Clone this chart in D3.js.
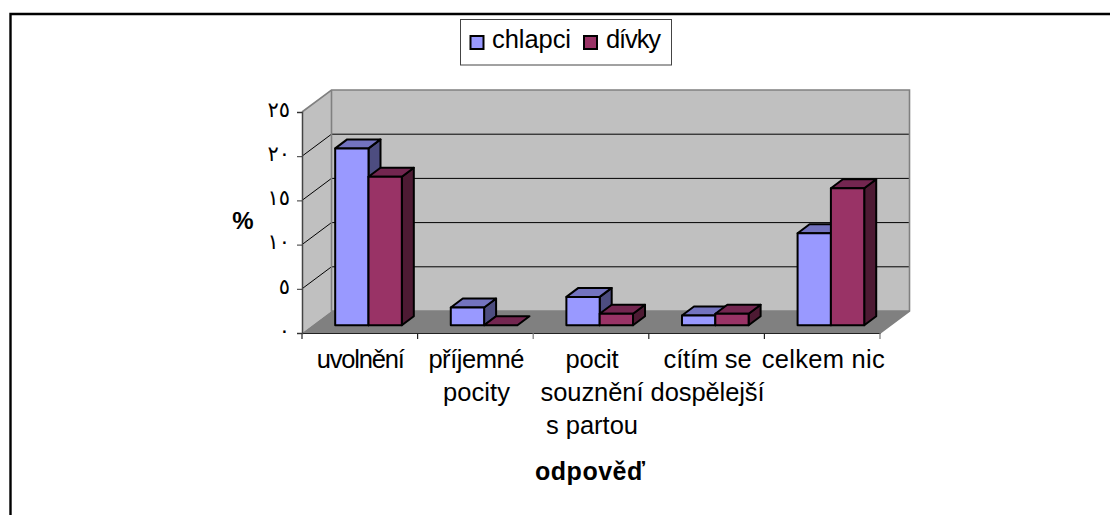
<!DOCTYPE html>
<html><head><meta charset="utf-8">
<script src="https://cdn.jsdelivr.net/npm/d3@7/dist/d3.min.js"></script>
<style>html,body{margin:0;padding:0;background:#fff;overflow:hidden}svg{display:block}</style>
</head><body><svg id="c" width="1110" height="515"></svg>
<script>
const categories = ["uvolnění","příjemné pocity","pocit souznění s partou","cítím se dospělejší","celkem nic"];
const categoryLines = [["uvolnění"],["příjemné","pocity"],["pocit","souznění","s partou"],["cítím se","dospělejší"],["celkem nic"]];
const categoryLineWidths = [[88],[96,67],[53,103,92],[88,114],[123]];
const seriesNames = ["chlapci","dívky"];
const seriesNameWidths = [79,55];
const chlapci = [20,2,3.2,1.1,10.4];
const divky = [16.8,0,1.3,1.3,15.5];
const tickValues = [0,5,10,15,20,25];
const tickLabels = ["٠","٥","١٠","١٥","٢٠","٢٥"];
const xTitle = "odpověď", yTitle = "%";
const faces = [
  {front:"#9999ff",top:"#7373bf",side:"#4d4d80"},
  {front:"#993366",top:"#732650",side:"#4d1a33"}
];
const latin = "'Liberation Sans',Arial,sans-serif";
const svg = d3.select("#c");

// outer frame: top and left edges only reach the picture
svg.append("path").attr("d","M10.5 515V14H1110").attr("fill","none").attr("stroke","#000").attr("stroke-width",2.4);

const x = d3.scaleBand().domain(categories).range([302,880]);
const y = d3.scaleLinear().domain([0,25]).range([333,112]);
const depth = {dx:29.5,dy:-22};
const barDepth = {dx:12,dy:-9};
const plane = {dx:8.7,dy:-7.8};
const line = pts => "M"+pts.map(p=>p.join(" ")).join("L")+"Z";

const [x0,x1] = x.range(), y0=y(0), yT=y(25);
// walls and floor
svg.append("path").attr("d",line([[x0,y0],[x0+depth.dx,y0+depth.dy],[x0+depth.dx,yT+depth.dy],[x0,yT]])).attr("fill","#c0c0c0");
svg.append("path").attr("d",line([[x0+depth.dx,y0+depth.dy],[x1+depth.dx,y0+depth.dy],[x1+depth.dx,yT+depth.dy],[x0+depth.dx,yT+depth.dy]])).attr("fill","#c0c0c0");
svg.append("path").attr("d",line([[x0,y0],[x1,y0],[x1+depth.dx,y0+depth.dy],[x0+depth.dx,y0+depth.dy]])).attr("fill","#808080");
// gridlines
tickValues.filter(t=>t>0&&t<25).forEach(t=>{
  svg.append("path").attr("fill","none").attr("stroke","#000").attr("stroke-width",1)
    .attr("d",`M${x0} ${y(t)}L${x0+depth.dx} ${y(t)+depth.dy}H${x1+depth.dx}`);
});
// wall edges
svg.append("path").attr("fill","none").attr("stroke","#808080").attr("stroke-width",1.6)
  .attr("d",`M${x0} ${yT}L${x0+depth.dx} ${yT+depth.dy}H${x1+depth.dx}V${y0+depth.dy}L${x1} ${y0}`);
svg.append("path").attr("fill","none").attr("stroke","#808080").attr("stroke-width",1.6)
  .attr("d",`M${x0+depth.dx} ${yT+depth.dy}V${y0+depth.dy}H${x1+depth.dx}`);

// bars
const inner = d3.scaleBand().domain(seriesNames).range([0,x.bandwidth()]).paddingInner(0).paddingOuter(0.735);
const series = [chlapci,divky];
categories.forEach((c,i)=>{
  seriesNames.forEach((s,j)=>{
    const v = series[j][i];
    const l = x(c)+inner(s)+plane.dx, r = l+inner.bandwidth();
    const b = y(0)+plane.dy, t = y(v)+plane.dy;
    const g = svg.append("g").attr("stroke","#000").attr("stroke-width",2).attr("stroke-linejoin","round");
    if(v>0) g.append("path").attr("fill",faces[j].side).attr("d",line([[r,b],[r+barDepth.dx,b+barDepth.dy],[r+barDepth.dx,t+barDepth.dy],[r,t]]));
    g.append("path").attr("fill",faces[j].top).attr("d",line([[l,t],[r,t],[r+barDepth.dx,t+barDepth.dy],[l+barDepth.dx,t+barDepth.dy]]));
    if(v>0) g.append("path").attr("fill",faces[j].front).attr("d",line([[l,t],[r,t],[r,b],[l,b]]));
  });
});

// axes
const xAxis = d3.axisBottom(x).tickSize(0).tickFormat("");
svg.append("g").attr("transform",`translate(0,${y0})`).call(xAxis).call(g=>g.select(".domain").attr("stroke","#222").attr("stroke-width",1.2));
svg.append("g").selectAll("line").data(categories.concat(["end"])).join("line")
  .attr("x1",(d,i)=>x0+i*x.step()).attr("x2",(d,i)=>x0+i*x.step())
  .attr("y1",y0).attr("y2",y0+6).attr("stroke",(d,i)=>(i==2||i==5)?"#777":"#222").attr("stroke-width",1.2);
const yAxis = d3.axisLeft(y).tickValues(tickValues).tickSize(5).tickPadding(7).tickFormat((d,i)=>tickLabels[i]);
svg.append("g").attr("transform",`translate(${x0},0)`).call(yAxis)
  .call(g=>g.select(".domain").attr("stroke","#444").attr("stroke-width",1.5))
  .call(g=>g.selectAll("line").attr("stroke","#333"))
  .call(g=>g.selectAll("text").attr("font-family","'DejaVu Sans',sans-serif").attr("font-size",21).attr("letter-spacing",1.5).attr("fill","#000").attr("dy","0.2em"));

// category labels
const lab = svg.append("g").attr("font-family",latin).attr("font-size",25.5).attr("text-anchor","middle").attr("fill","#000");
categories.forEach((c,i)=>{
  categoryLines[i].forEach((t,k)=>{
    lab.append("text").attr("x",x(c)+x.bandwidth()/2+1).attr("y",368+k*33)
      .attr("textLength",categoryLineWidths[i][k]).attr("lengthAdjust","spacing").text(t);
  });
});
svg.append("text").attr("x",590).attr("y",480).attr("text-anchor","middle").attr("font-family",latin).attr("font-weight","bold").attr("font-size",25)
  .attr("textLength",110).attr("lengthAdjust","spacing").text(xTitle);
svg.append("text").attr("x",243).attr("y",229).attr("text-anchor","middle").attr("font-family",latin).attr("font-weight","bold").attr("font-size",24).text(yTitle);

// legend
svg.append("rect").attr("x",460.5).attr("y",19.5).attr("width",211).attr("height",45.5).attr("fill","#fff").attr("stroke","#444").attr("stroke-width",1);
const legX = [492,606], swX=[470.5,584];
seriesNames.forEach((s,j)=>{
  svg.append("rect").attr("x",swX[j]).attr("y",36).attr("width",13).attr("height",13).attr("fill",faces[j].front).attr("stroke","#000").attr("stroke-width",2);
  svg.append("text").attr("x",legX[j]).attr("y",48).attr("font-family",latin).attr("font-size",25.5)
    .attr("textLength",seriesNameWidths[j]).attr("lengthAdjust","spacing").text(s);
});
</script></body></html>
